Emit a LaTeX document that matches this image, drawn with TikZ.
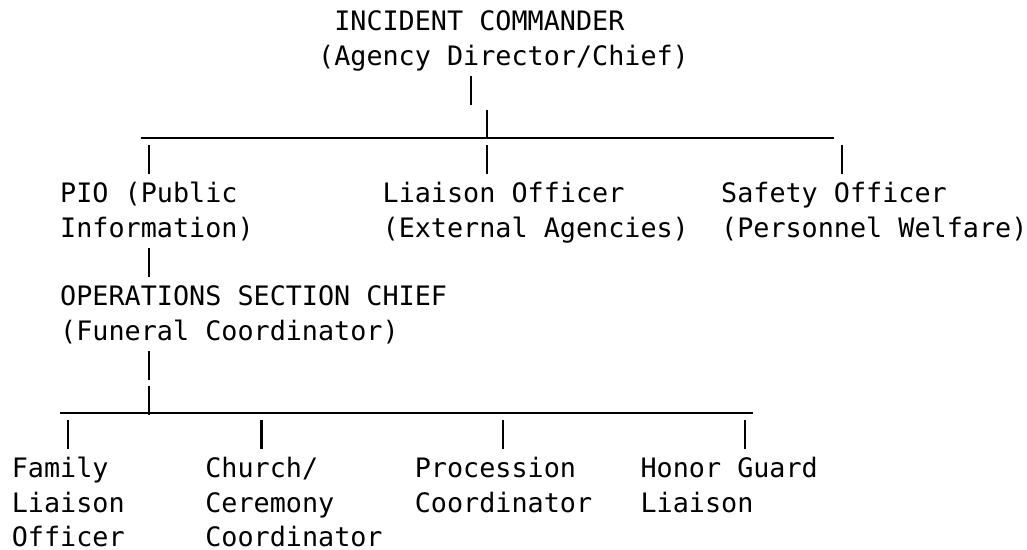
\documentclass[tikz,border=0pt]{standalone}
\usepackage{fontspec}
\setmonofont{DejaVu Sans Mono}

\tikzset{
  role/.style={anchor=base west, inner sep=0pt, align=left,
    font=\ttfamily\fontsize{20.08pt}{25.8pt}\selectfont},
  link/.style={line width=1.6pt, line cap=butt},
}

\begin{document}
\begin{tikzpicture}[x=12.09pt, y=-25.8pt]
  \path[fill=white] (-0.72,-0.891) rectangle (62.99,15.097);
  \useasboundingbox (-0.72,-0.891) rectangle (62.99,15.097);

  % one column = one character, one row = one line;
  % a node sits on the baseline of its last line
  \node[role] (ic)  at (19,1) {\phantom{I}INCIDENT COMMANDER\\(Agency Director/Chief)};
  \node[role] (pio) at (3,6)  {PIO (Public\\Information)};
  \node[role] (lo)  at (23,6) {Liaison Officer\\(External Agencies)};
  \node[role] (so)  at (44,6) {Safety Officer\\(Personnel Welfare)};
  \node[role] (osc) at (3,9)  {OPERATIONS SECTION CHIEF\\(Funeral Coordinator)};
  \node[role] (fam) at (0,15)  {Family\\Liaison\\Officer};
  \node[role] (cer) at (12,15) {Church/\\Ceremony\\Coordinator};
  \node[role] (pro) at (25,14) {Procession\\Coordinator};
  \node[role] (hon) at (39,14) {Honor Guard\\Liaison};

  % bars
  \coordinate (cmd-l) at (8,3.116);
  \coordinate (cmd-r) at (51,3.116);
  \coordinate (ops-l) at (3,11.116);
  \coordinate (ops-r) at (46,11.116);
  \draw[link] (cmd-l) -- (cmd-r);
  \draw[link] (ops-l) -- (ops-r);

  % the short strokes
  \foreach \c/\r in {28/2, 29/3, 8/4, 29/4, 51/4, 8/7, 8/10, 8/11,
                     3/12, 15/12, 30/12, 45/12}
    \draw[link] (\c+0.5,\r-0.683) -- (\c+0.5,\r+0.16);
\end{tikzpicture}
\end{document}
